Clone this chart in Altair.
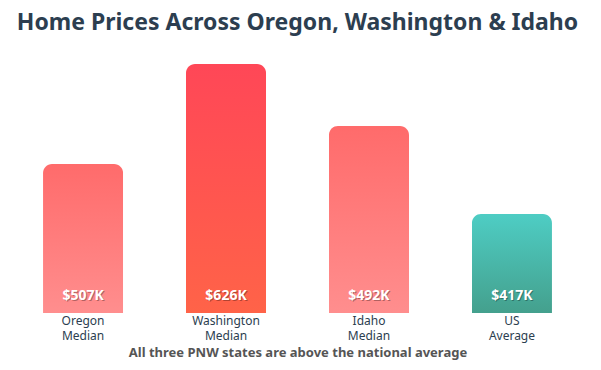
import altair as alt
import pandas as pd

categories = ["Oregon\nMedian", "Washington\nMedian", "Idaho\nMedian", "US\nAverage"]
price_labels = ["$507K", "$626K", "$492K", "$417K"]
bar_heights = [149, 249, 187, 99]
top_colors = ["#ff6b6b", "#ff4757", "#ff6b6b", "#4ecdc4"]
bottom_colors = ["#ff8e8e", "#ff6348", "#ff8e8e", "#44a08d"]

df = pd.DataFrame({"cat": categories, "label": price_labels, "h": bar_heights})

FONT = "Noto Sans"

x_enc = alt.X(
    "cat:N",
    sort=categories,
    scale=alt.Scale(paddingInner=0.44, paddingOuter=0.245),
    axis=alt.Axis(
        title="All three PNW states are above the national average",
        labelExpr="split(datum.label, '\\n')",
        labelAngle=0,
        labelFont=FONT,
        labelFontSize=12,
        labelColor="#2c3e50",
        labelLineHeight=15,
        labelPadding=2,
        domain=False,
        ticks=False,
        titleFont=FONT,
        titleFontSize=13,
        titleFontWeight="bold",
        titleColor="#555555",
        titlePadding=5,
    ),
)
y_scale = alt.Scale(domain=[0, 258])

layers = []
for i, c in enumerate(categories):
    grad = alt.LinearGradient(
        gradient="linear",
        x1=0, y1=0, x2=0, y2=1,
        stops=[
            alt.GradientStop(color=top_colors[i], offset=0),
            alt.GradientStop(color=bottom_colors[i], offset=1),
        ],
    )
    layers.append(
        alt.Chart(df)
        .transform_filter(alt.datum.cat == c)
        .mark_bar(color=grad, cornerRadiusTopLeft=9, cornerRadiusTopRight=9)
        .encode(x=x_enc, y=alt.Y("h:Q", scale=y_scale, axis=None))
    )

shadow = alt.Chart(df).mark_text(
    font=FONT, fontSize=14, fontWeight="bold", color="#000000", opacity=0.3,
    baseline="bottom", dy=-9, dx=1,
).encode(x=x_enc, y=alt.datum(0, scale=y_scale), text="label:N")

labels = alt.Chart(df).mark_text(
    font=FONT, fontSize=14, fontWeight="bold", color="#ffffff",
    baseline="bottom", dy=-10,
).encode(x=x_enc, y=alt.datum(0, scale=y_scale), text="label:N")

chart = (
    alt.layer(*layers, shadow, labels)
    .properties(
        width=579,
        height=258,
        title=alt.TitleParams(
            "Home Prices Across Oregon, Washington & Idaho",
            font=FONT,
            fontSize=23,
            fontWeight="bold",
            color="#2c3e50",
            anchor="middle",
            offset=20,
        ),
        autosize=alt.AutoSizeParams(type="none"),
        padding={"left": 0, "top": 47, "right": 0, "bottom": 57},
    )
    .configure_view(stroke=None)
)

chart.save("out.html", embed_options={"renderer": "svg", "actions": False})
